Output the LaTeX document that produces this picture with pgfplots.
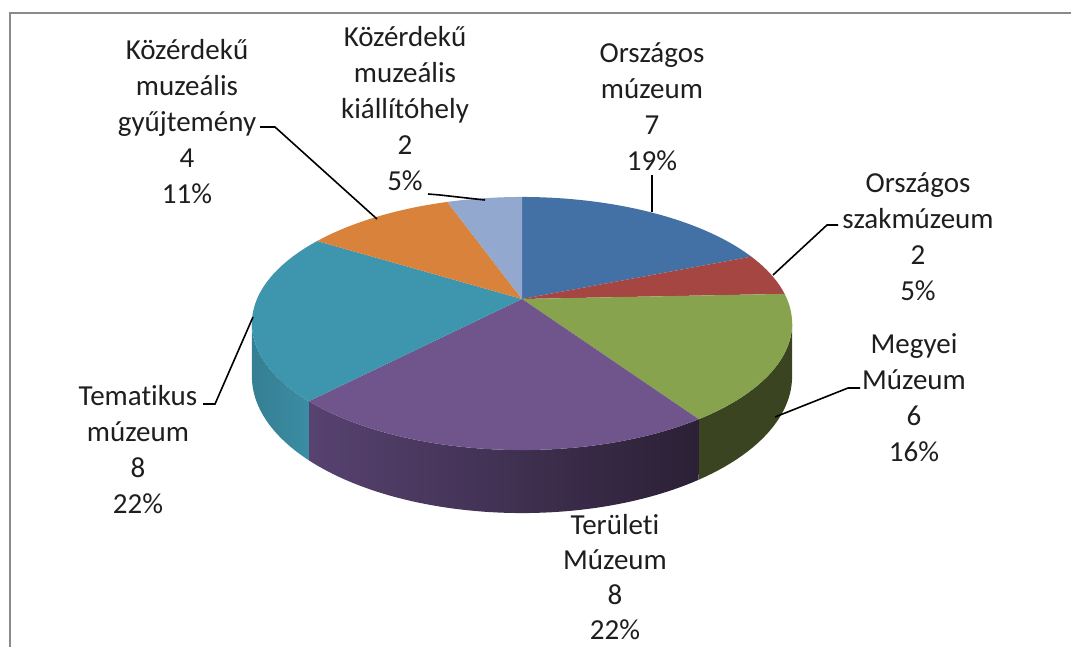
\documentclass[border=0pt]{standalone}
\usepackage{fontspec}
\setmainfont{Carlito}[Ligatures=NoCommon]
\usepackage{pgfplots}
\pgfplotsset{compat=1.18}
\definecolor{cBlue}{HTML}{4371A6}
\definecolor{cRed}{HTML}{A64643}
\definecolor{cGreen}{HTML}{87A34D}
\definecolor{cPurple}{HTML}{6F558C}
\definecolor{cCyan}{HTML}{3E96AE}
\definecolor{cOrange}{HTML}{D9823C}
\definecolor{cLight}{HTML}{92A8CF}
\definecolor{sGreen}{HTML}{3A4420}
\definecolor{sPurpleL}{HTML}{574270}
\definecolor{sPurpleR}{HTML}{2B2035}
\definecolor{sCyanL}{HTML}{3B8DA3}
\definecolor{sCyanR}{HTML}{357F92}
\definecolor{txt}{HTML}{1E1E1E}
\definecolor{frame}{HTML}{8A8A8A}
% projection of the tilted pie (pixel coordinates)
\newcommand\PX[1]{522+265*cos(#1)/(1+0.1937*sin(#1))}
\newcommand\PY[1]{299-121.8*sin(#1)/(1+0.1937*sin(#1))}
\newcommand\PYB[1]{299+(50.8-121.8*sin(#1))/(1+0.1937*sin(#1))}
% data: 7, 2, 6, 8, 8, 4, 2 (total 37)
\pgfmathsetmacro\tA{90}
\pgfmathsetmacro\tB{90-360*7/37}
\pgfmathsetmacro\tC{90-360*(7+2)/37}
\pgfmathsetmacro\tD{90-360*(7+2+6)/37}
\pgfmathsetmacro\tE{90-360*(7+2+6+8)/37}
\pgfmathsetmacro\tF{90-360*(7+2+6+8+8)/37}
\pgfmathsetmacro\tG{90-360*(7+2+6+8+8+4)/37}
\pgfmathsetmacro\tH{90-360*(7+2+6+8+8+4+2)/37}
\pgfmathsetmacro\sR{-asin(0.1937)}
\pgfmathsetmacro\sL{-180+asin(0.1937)}
\begin{document}
\begin{tikzpicture}
\begin{axis}[width=1071pt,height=646pt,scale only axis,
  xmin=0,xmax=1071,ymin=0,ymax=646,y dir=reverse,hide axis,clip=false]
% frame
\draw[frame,line width=2.5pt] (axis cs:1080,13) -- (axis cs:10,13) -- (axis cs:10,660);
% sides
\fill[sGreen] plot[domain=\sR:\tD,samples=40,variable=\t] (axis cs:{\PX{\t}},{\PY{\t}})
  -- plot[domain=\tD:\sR,samples=40,variable=\t] (axis cs:{\PX{\t}},{\PYB{\t}}) -- cycle;
\shade[left color=sPurpleL,right color=sPurpleR] plot[domain=\tD:\tE,samples=60,variable=\t] (axis cs:{\PX{\t}},{\PY{\t}})
  -- plot[domain=\tE:\tD,samples=60,variable=\t] (axis cs:{\PX{\t}},{\PYB{\t}}) -- cycle;
\shade[left color=sCyanR,right color=sCyanL] plot[domain=\tE:\sL,samples=40,variable=\t] (axis cs:{\PX{\t}},{\PY{\t}})
  -- plot[domain=\sL:\tE,samples=40,variable=\t] (axis cs:{\PX{\t}},{\PYB{\t}}) -- cycle;
% top faces
\fill[cBlue] (axis cs:522,299) -- plot[domain=\tA:\tB,samples=50,variable=\t] (axis cs:{\PX{\t}},{\PY{\t}}) -- cycle;
\fill[cRed] (axis cs:522,299) -- plot[domain=\tB:\tC,samples=20,variable=\t] (axis cs:{\PX{\t}},{\PY{\t}}) -- cycle;
\fill[cGreen] (axis cs:522,299) -- plot[domain=\tC:\tD,samples=50,variable=\t] (axis cs:{\PX{\t}},{\PY{\t}}) -- cycle;
\fill[cPurple] (axis cs:522,299) -- plot[domain=\tD:\tE,samples=60,variable=\t] (axis cs:{\PX{\t}},{\PY{\t}}) -- cycle;
\fill[cCyan] (axis cs:522,299) -- plot[domain=\tE:\tF,samples=60,variable=\t] (axis cs:{\PX{\t}},{\PY{\t}}) -- cycle;
\fill[cOrange] (axis cs:522,299) -- plot[domain=\tF:\tG,samples=40,variable=\t] (axis cs:{\PX{\t}},{\PY{\t}}) -- cycle;
\fill[cLight] (axis cs:522,299) -- plot[domain=\tG:\tH,samples=20,variable=\t] (axis cs:{\PX{\t}},{\PY{\t}}) -- cycle;
% leader lines
\draw[black,line width=1.6pt] (axis cs:260,127) -- (axis cs:275,127) -- (axis cs:377,219);
\draw[black,line width=1.6pt] (axis cs:428,194) -- (axis cs:440,195) -- (axis cs:485,200);
\draw[black,line width=1.6pt] (axis cs:652,175) -- (axis cs:652,212);
\draw[black,line width=1.6pt] (axis cs:838,225) -- (axis cs:827,225) -- (axis cs:773,275);
\draw[black,line width=1.6pt] (axis cs:860,388) -- (axis cs:848,388) -- (axis cs:775,417);
\draw[black,line width=1.6pt] (axis cs:203,404) -- (axis cs:215,404) -- (axis cs:253,317);
% labels
\tikzset{lbl/.style={align=center,inner sep=0pt,text=txt,font=\fontsize{29}{36}\selectfont}}
\node[lbl] at (axis cs:187,122) {Közérdekű\\muzeális\\gyűjtemény\\4\\11\%};
\node[lbl] at (axis cs:405,109) {Közérdekű\\muzeális\\kiállítóhely\\2\\5\%};
\node[lbl] at (axis cs:652,107) {Országos\\múzeum\\7\\19\%};
\node[lbl] at (axis cs:918,237) {Országos\\szakmúzeum\\2\\5\%};
\node[lbl] at (axis cs:914,398) {Megyei\\Múzeum\\6\\16\%};
\node[lbl,font=\fontsize{29}{35}\selectfont] at (axis cs:615,577) {Területi\\Múzeum\\8\\22\%};
\node[lbl] at (axis cs:138,450) {Tematikus\\múzeum\\8\\22\%};
\end{axis}
\pgfresetboundingbox
\path[use as bounding box] (0,0) rectangle (1071pt,646pt);
\end{tikzpicture}
\end{document}
